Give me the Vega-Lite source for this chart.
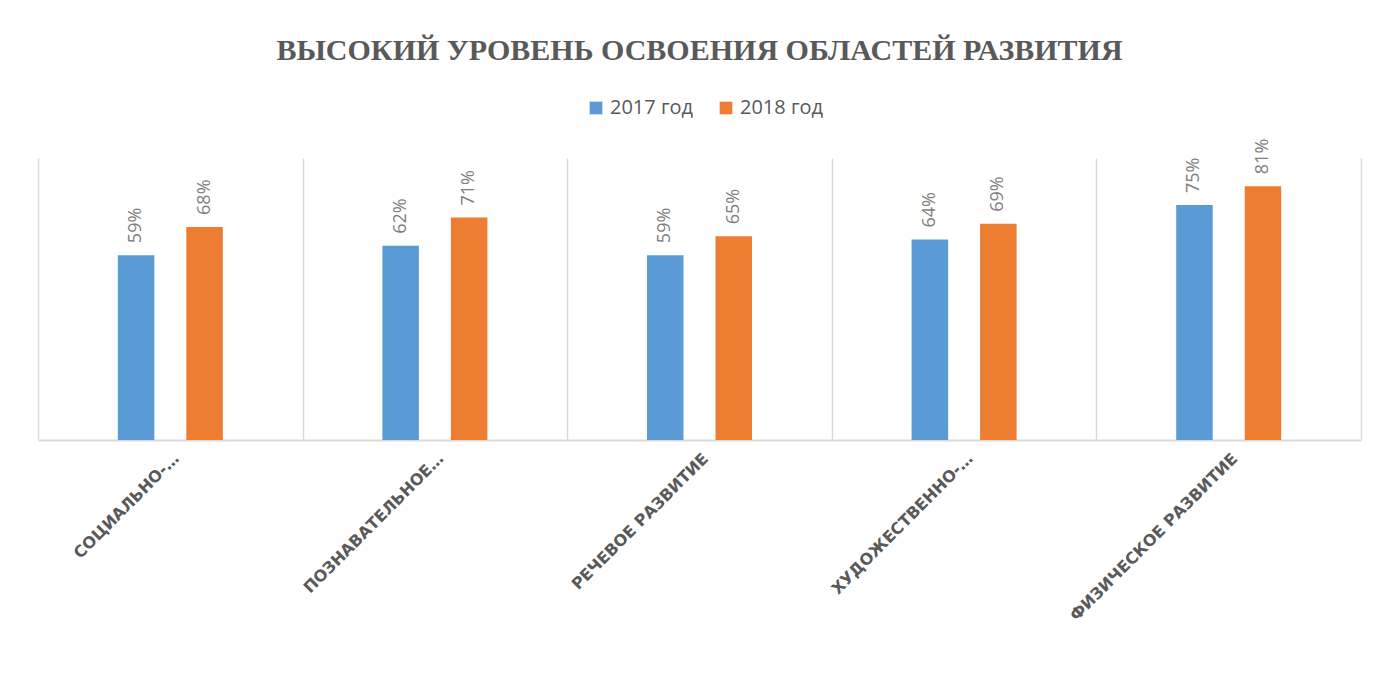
{
  "$schema": "https://vega.github.io/schema/vega-lite/v6.json",
  "autosize": {"type": "none"},
  "width": 1323,
  "height": 282,
  "padding": {"left": 38, "top": 158, "right": 18, "bottom": 238},
  "background": "white",
  "title": {
    "text": "ВЫСОКИЙ УРОВЕНЬ ОСВОЕНИЯ ОБЛАСТЕЙ РАЗВИТИЯ",
    "font": "Liberation Serif",
    "fontSize": 30,
    "fontWeight": "bold",
    "color": "#595959",
    "anchor": "middle",
    "offset": 32
  },
  "data": {
    "values": [
      {"cat": "СОЦИАЛЬНО-…", "year": "2017 год", "value": 0.59},
      {"cat": "СОЦИАЛЬНО-…", "year": "2018 год", "value": 0.68},
      {"cat": "ПОЗНАВАТЕЛЬНОЕ…", "year": "2017 год", "value": 0.62},
      {"cat": "ПОЗНАВАТЕЛЬНОЕ…", "year": "2018 год", "value": 0.71},
      {"cat": "РЕЧЕВОЕ РАЗВИТИЕ", "year": "2017 год", "value": 0.59},
      {"cat": "РЕЧЕВОЕ РАЗВИТИЕ", "year": "2018 год", "value": 0.65},
      {"cat": "ХУДОЖЕСТВЕННО-…", "year": "2017 год", "value": 0.64},
      {"cat": "ХУДОЖЕСТВЕННО-…", "year": "2018 год", "value": 0.69},
      {"cat": "ФИЗИЧЕСКОЕ РАЗВИТИЕ", "year": "2017 год", "value": 0.75},
      {"cat": "ФИЗИЧЕСКОЕ РАЗВИТИЕ", "year": "2018 год", "value": 0.81}
    ]
  },
  "encoding": {
    "x": {
      "field": "cat",
      "type": "nominal",
      "sort": null,
      "scale": {"paddingInner": 0, "paddingOuter": 0},
      "axis": {
        "title": null,
        "labelAngle": -45,
        "labelFont": "DejaVu Sans",
        "labelFontSize": 16,
        "labelFontWeight": "bold",
        "labelColor": "#595959",
        "labelPadding": 10,
        "labelLimit": 400,
        "ticks": false,
        "grid": true,
        "tickBand": "extent",
        "gridColor": "#d9d9d9",
        "gridWidth": 1.5,
        "domainColor": "#d9d9d9",
        "domainWidth": 2
      }
    },
    "xOffset": {
      "field": "year",
      "type": "nominal",
      "scale": {"domain": ["_a", "2017 год", "2018 год", "_b"], "paddingInner": 0.467, "paddingOuter": 0.165}
    },
    "y": {
      "field": "value",
      "type": "quantitative",
      "scale": {"domain": [0, 0.9]},
      "axis": null
    }
  },
  "layer": [
    {
      "mark": {"type": "bar"},
      "encoding": {
        "color": {
          "field": "year",
          "type": "nominal",
          "scale": {"domain": ["2017 год", "2018 год"], "range": ["#5B9BD5", "#ED7D31"]},
          "legend": {
            "title": null,
            "orient": "none",
            "legendX": 548,
            "legendY": -60,
            "direction": "horizontal",
            "symbolType": "square",
            "symbolSize": 160,
            "symbolStrokeWidth": 0,
            "labelFont": "Open Sans",
            "labelFontSize": 20,
            "labelColor": "#595959",
            "columnPadding": 22
          }
        }
      }
    },
    {
      "mark": {
        "type": "text",
        "angle": 270,
        "align": "left",
        "baseline": "middle",
        "dx": 12,
        "font": "Open Sans",
        "fontSize": 18,
        "color": "#7f7f7f"
      },
      "encoding": {
        "text": {"field": "value", "type": "quantitative", "format": ".0%"}
      }
    }
  ],
  "config": {"view": {"stroke": null}}
}
